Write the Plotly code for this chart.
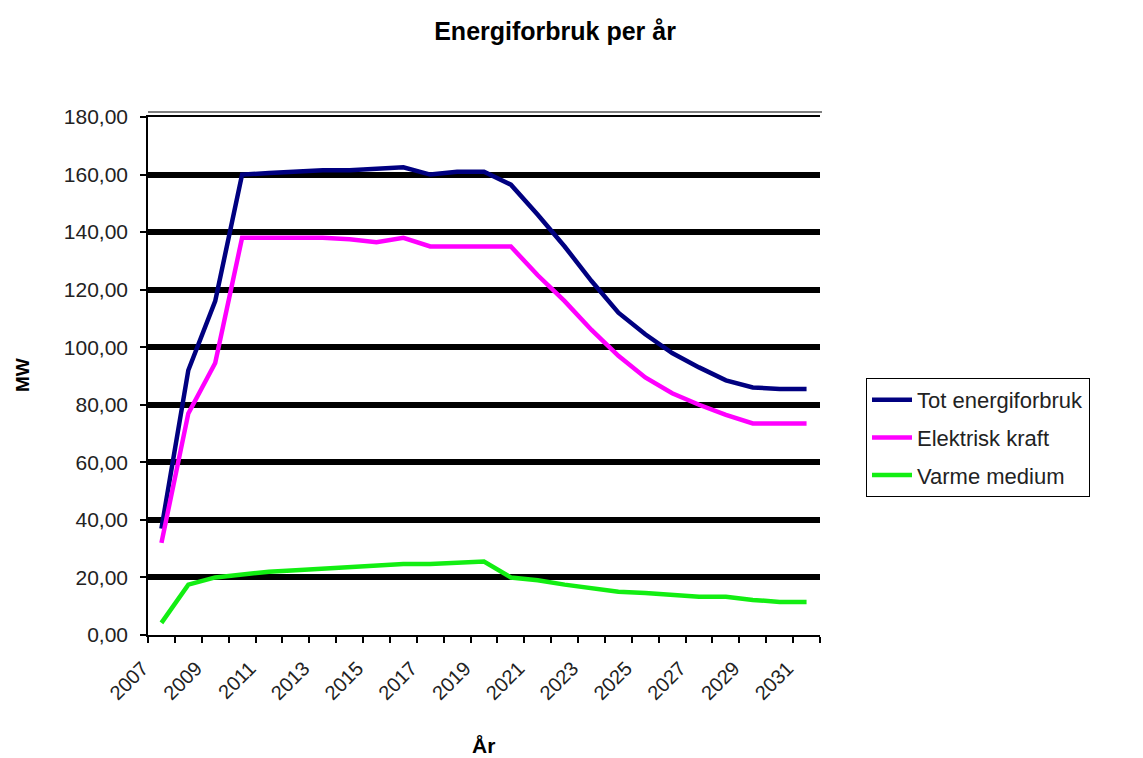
import plotly.graph_objects as go

years = list(range(2007, 2032))
tot_energi = [37, 92, 116, 160, 160.5, 161, 161.5, 161.5, 162, 162.5, 160, 161, 161, 156.5,
              146, 135, 123, 112, 104.5, 98, 93, 88.5, 86, 85.5, 85.5]
elektrisk = [32, 77, 94.5, 138, 138, 138, 138, 137.5, 136.5, 138, 135, 135, 135, 135,
             125, 116, 106, 97, 89.5, 84, 80, 76.5, 73.5, 73.5, 73.5]
varme = [4.2, 17.5, 20, 21, 22, 22.5, 23, 23.5, 24, 24.7, 24.7, 25, 25.5, 20,
         19, 17.5, 16.3, 15, 14.6, 14, 13.3, 13.3, 12.2, 11.5, 11.5]

series_names = ["Tot energiforbruk", "Elektrisk kraft", "Varme medium"]
series_colors = ["#000080", "#FF00FF", "#12EE12"]
y_ticks = [0, 20, 40, 60, 80, 100, 120, 140, 160, 180]
x_labels = list(range(2007, 2032, 2))

FONT = "Liberation Sans, Arial, sans-serif"

fig = go.Figure()
for i, (name, vals, col) in enumerate(zip(series_names, [tot_energi, elektrisk, varme], series_colors)):
    fig.add_trace(go.Scatter(x=years, y=vals, mode="lines", name=name,
                             line=dict(color=col, width=4.5), legendgroup=str(i)))

W, H = 1135, 750
L, T, PW, PH = 140, 109, 672, 518

fig.update_layout(
    width=W, height=H,
    paper_bgcolor="white", plot_bgcolor="white",
    margin=dict(l=L, r=W - L - PW, t=T, b=H - T - PH, autoexpand=False),
    separators=",.",
    font=dict(family=FONT, color="black", size=18),
    title=dict(text="<b>Energiforbruk per år</b>", x=0.482, xref="container", xanchor="center",
               y=1 - 23 / H, yref="container", yanchor="middle",
               font=dict(family=FONT, size=25, color="black")),
    showlegend=True,
    legend=dict(x=(866 - 148) / PW, xanchor="left", y=(635 - 378) / PH, yanchor="top",
                bordercolor="black", borderwidth=1, bgcolor="white",
                font=dict(family=FONT, size=22, color="#222222"),
                tracegroupgap=6, itemwidth=40),
    xaxis=dict(range=[2006.5, 2031.5], tickmode="array", tickvals=x_labels,
               ticktext=[str(v) for v in x_labels], tickangle=-45, ticks="",
               ticklabelstandoff=12, ticklabelshift=-19,
               showline=True, linecolor="black", linewidth=1.5, mirror=True,
               showgrid=False, zeroline=False,
               tickfont=dict(family=FONT, size=20, color="#222222"),
               minor=dict(tick0=2006.5, dtick=1, ticks="outside", ticklen=6,
                          tickcolor="black", tickwidth=1.5, showgrid=False)),
    yaxis=dict(range=[0, 180], tickmode="array", tickvals=y_ticks, tickformat=".2f",
               ticks="outside", ticklen=6, tickcolor="black", tickwidth=1.5,
               showline=True, linecolor="black", linewidth=1.5,
               showgrid=True, gridcolor="black", gridwidth=6, zeroline=False,
               ticklabelstandoff=8,
               tickfont=dict(family=FONT, size=21, color="#222222")),
    shapes=[dict(type="line", xref="paper", yref="paper", x0=0, x1=1.003,
                 y0=1 + 5 / PH, y1=1 + 5 / PH, line=dict(color="black", width=1.2))],
    annotations=[
        dict(text="<b>MW</b>", xref="paper", yref="paper", x=(22 - 148) / PW, y=(635 - 375) / PH,
             textangle=-90, showarrow=False, xanchor="center", yanchor="middle",
             font=dict(family=FONT, size=19, color="black")),
        dict(text="<b>År</b>", xref="paper", yref="paper", x=(483 - 148) / PW, y=(635 - 745) / PH,
             showarrow=False, xanchor="center", yanchor="middle",
             font=dict(family=FONT, size=21, color="black")),
    ],
)

fig.write_html("out.html")
